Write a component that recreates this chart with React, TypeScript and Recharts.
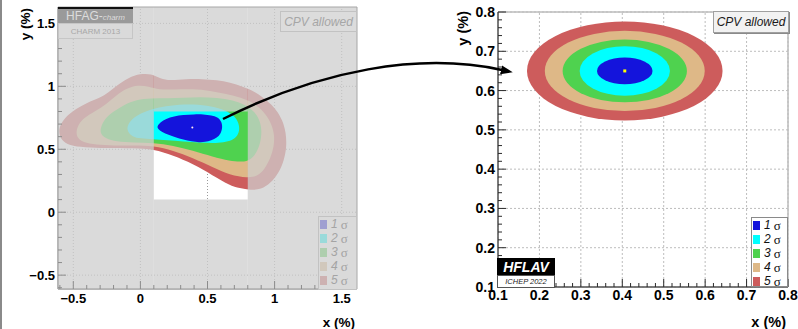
import React from 'react';
import { ScatterChart, Scatter, XAxis, YAxis, ReferenceArea, ReferenceLine, Label } from 'recharts';

const FONT = '"Liberation Sans", Arial, Helvetica, sans-serif';
const SERIF = '"Liberation Serif", "DejaVu Serif", serif';

const SIGMA_LEVELS = ['1', '2', '3', '4', '5'];
const SIGMA_COLORS = ['#1414dc', '#00ffff', '#4fd24f', '#deb887', '#cd5c5c'];

// right panel: HFLAV ICHEP 2022 fit, one ellipse per sigma level
const FIT_CENTER = { x: 0.406, y: 0.65 };
const ELLIPSE_HALF_X = [0.067, 0.109, 0.15, 0.193, 0.236];
const ELLIPSE_HALF_Y = [0.034, 0.063, 0.08, 0.102, 0.126];

// left panel: old CHARM 2013 contours (outer boundary of each level)
const OLD_BEST_FIT = { x: 0.387, y: 0.672 };
const CONTOUR_1S = [
  [0.124, 0.683], [0.15, 0.715], [0.19, 0.742], [0.25, 0.762], [0.32, 0.772], [0.4, 0.778],
  [0.47, 0.778], [0.53, 0.77], [0.575, 0.755], [0.605, 0.72], [0.612, 0.675], [0.6, 0.625],
  [0.57, 0.59], [0.53, 0.57], [0.48, 0.557], [0.44, 0.555], [0.38, 0.562], [0.32, 0.577],
  [0.26, 0.595], [0.21, 0.615], [0.16, 0.638], [0.13, 0.66],
];
const CONTOUR_2S = [
  [-0.1, 0.68], [-0.07, 0.735], [0.0, 0.785], [0.1, 0.825], [0.22, 0.848], [0.36, 0.858],
  [0.5, 0.848], [0.61, 0.82], [0.69, 0.775], [0.73, 0.72], [0.74, 0.66], [0.725, 0.605],
  [0.685, 0.57], [0.62, 0.553], [0.54, 0.548], [0.44, 0.553], [0.32, 0.562], [0.2, 0.572],
  [0.09, 0.58], [0.0, 0.585], [-0.06, 0.6], [-0.095, 0.64],
];
const CONTOUR_3S = [
  [-0.3, 0.66], [-0.27, 0.74], [-0.2, 0.8], [-0.12, 0.855], [-0.03, 0.895], [0.08, 0.905],
  [0.2, 0.905], [0.32, 0.91], [0.44, 0.915], [0.57, 0.91], [0.69, 0.89], [0.78, 0.855],
  [0.85, 0.8], [0.89, 0.73], [0.905, 0.65], [0.895, 0.55], [0.865, 0.47], [0.82, 0.415],
  [0.76, 0.398], [0.665, 0.407], [0.54, 0.44], [0.39, 0.49], [0.243, 0.528], [0.1, 0.55],
  [-0.05, 0.553], [-0.18, 0.56], [-0.26, 0.585], [-0.295, 0.62],
];
const CONTOUR_4S = [
  [-0.48, 0.64], [-0.46, 0.7], [-0.42, 0.75], [-0.34, 0.8], [-0.25, 0.86], [-0.18, 0.93],
  [-0.1, 0.985], [-0.02, 1.01], [0.06, 1.0], [0.14, 0.972], [0.25, 0.975], [0.39, 0.98],
  [0.52, 0.965], [0.64, 0.94], [0.75, 0.91], [0.84, 0.87], [0.92, 0.8], [0.97, 0.72],
  [1.0, 0.62], [0.995, 0.52], [0.97, 0.43], [0.925, 0.34], [0.87, 0.285], [0.8, 0.272],
  [0.665, 0.294], [0.54, 0.358], [0.39, 0.432], [0.243, 0.49], [0.1, 0.528], [-0.05, 0.53],
  [-0.2, 0.53], [-0.33, 0.535], [-0.43, 0.555], [-0.47, 0.59],
];
const CONTOUR_5S = [
  [-0.61, 0.64], [-0.595, 0.7], [-0.55, 0.765], [-0.48, 0.82], [-0.4, 0.87], [-0.3, 0.91],
  [-0.24, 0.95], [-0.17, 1.01], [-0.09, 1.07], [0.0, 1.1], [0.08, 1.1], [0.15, 1.06],
  [0.22, 1.045], [0.34, 1.058], [0.46, 1.058], [0.57, 1.05], [0.67, 1.03], [0.76, 1.0],
  [0.86, 0.955], [0.94, 0.89], [1.01, 0.82], [1.06, 0.73], [1.085, 0.63], [1.09, 0.52],
  [1.07, 0.41], [1.03, 0.31], [0.97, 0.23], [0.9, 0.18], [0.82, 0.175], [0.74, 0.19],
  [0.665, 0.214], [0.54, 0.292], [0.39, 0.385], [0.243, 0.45], [0.1, 0.5], [-0.05, 0.51],
  [-0.25, 0.51], [-0.42, 0.515], [-0.53, 0.53], [-0.59, 0.57],
];
const OLD_CONTOURS = [CONTOUR_1S, CONTOUR_2S, CONTOUR_3S, CONTOUR_4S, CONTOUR_5S];

// region of the old plot that the new plot zooms into
const ZOOM_WINDOW = { x1: 0.1, x2: 0.8, y1: 0.1, y2: 0.8 };

const LEFT_X_DOMAIN = [-0.614, 1.614];
const LEFT_Y_DOMAIN = [-0.61, 1.63];
const LEFT_MAJOR = [-0.5, 0, 0.5, 1, 1.5];
const LEFT_MINOR = [-0.6, -0.4, -0.3, -0.2, -0.1, 0.1, 0.2, 0.3, 0.4, 0.6, 0.7, 0.8, 0.9, 1.1, 1.2, 1.3, 1.4, 1.6];

const RIGHT_DOMAIN = [0.1, 0.8];
const RIGHT_MAJOR = [0.1, 0.2, 0.3, 0.4, 0.5, 0.6, 0.7, 0.8];
const RIGHT_MINOR = [
  0.12, 0.14, 0.16, 0.18, 0.22, 0.24, 0.26, 0.28, 0.32, 0.34, 0.36, 0.38, 0.42, 0.44,
  0.46, 0.48, 0.52, 0.54, 0.56, 0.58, 0.62, 0.64, 0.66, 0.68, 0.72, 0.74, 0.76, 0.78,
];

const FADE_GRAY = 205;
const FADE_ALPHA = 0.75;
const fade = (hex: string) => {
  const n = parseInt(hex.slice(1), 16);
  const ch = [(n >> 16) & 255, (n >> 8) & 255, n & 255].map((c) =>
    Math.round(FADE_ALPHA * FADE_GRAY + (1 - FADE_ALPHA) * c)
  );
  return `rgb(${ch.join(',')})`;
};

const near = (list: number[], v: number) => list.some((m) => Math.abs(m - v) < 1e-6);
const fmtLeft = (v: number) => (v < 0 ? `\u2212${Math.abs(v)}` : `${v}`);
const fmtRight = (v: number) => v.toFixed(1);

const XTick = (props: any) => {
  const { x, y, payload, majors, fmt, color, fontSize, gap } = props;
  const major = near(majors, payload.value);
  return (
    <g>
      <line x1={x} x2={x} y1={y} y2={y - (major ? 8 : 4)} stroke={color} />
      {major && (
        <text x={x} y={y + gap} textAnchor="middle" fontSize={fontSize} fontWeight="bold" fontFamily={FONT} fill="#000">
          {fmt(payload.value)}
        </text>
      )}
    </g>
  );
};

const YTick = (props: any) => {
  const { x, y, payload, majors, fmt, color, fontSize } = props;
  const major = near(majors, payload.value);
  return (
    <g>
      <line x1={x} x2={x + (major ? 8 : 4)} y1={y} y2={y} stroke={color} />
      {major && (
        <text x={x - 3} y={y} dy="0.36em" textAnchor="end" fontSize={fontSize} fontWeight="bold" fontFamily={FONT} fill="#000">
          {fmt(payload.value)}
        </text>
      )}
    </g>
  );
};

const xTitle = (size: number, dy: number) => (p: any) => (
  <text x={p.viewBox.x + p.viewBox.width - 2} y={p.viewBox.y + dy} textAnchor="end" fontSize={size} fontWeight="bold" fontFamily={FONT} fill="#000">
    x (%)
  </text>
);

const yTitle = (size: number, dx: number, dy: number) => (p: any) => (
  <text transform={`translate(${p.viewBox.x + dx},${p.viewBox.y + dy}) rotate(-90)`} textAnchor="end" fontSize={size} fontWeight="bold" fontFamily={FONT} fill="#000">
    y (%)
  </text>
);

const ellipseShape = (color: string) => (p: any) => (
  <ellipse cx={p.x + p.width / 2} cy={p.y + p.height / 2} rx={Math.abs(p.width) / 2} ry={Math.abs(p.height) / 2} fill={color} />
);

const box = (extra: React.CSSProperties): React.CSSProperties => ({
  position: 'absolute',
  boxSizing: 'border-box',
  display: 'flex',
  alignItems: 'center',
  justifyContent: 'center',
  fontFamily: FONT,
  whiteSpace: 'nowrap',
  ...extra,
});

const SigmaLegend = ({ left, top, width, height, colors, textColor, border, bg }: any) => (
  <div style={{ position: 'absolute', left, top, width, height, background: bg, border: `1px solid ${border}`, boxSizing: 'border-box' }}>
    {SIGMA_LEVELS.map((s, i) => (
      <div key={s} style={{ position: 'absolute', left: 1, top: 2.5 + i * 14.2, height: 9, display: 'flex', alignItems: 'center' }}>
        <span style={{ width: 7, height: 9, background: colors[i], display: 'inline-block' }} />
        <span style={{ marginLeft: 4, fontFamily: FONT, fontStyle: 'italic', fontSize: 12, color: textColor, lineHeight: '9px' }}>{s}</span>
        <span style={{ marginLeft: 3, fontFamily: SERIF, fontSize: 13, color: textColor, lineHeight: '9px' }}>σ</span>
      </div>
    ))}
  </div>
);

const LEFT_AXIS = '#8c8c8c';
const RIGHT_AXIS = '#2a2a2a';

const App = () => {
  const leftTicks = [...LEFT_MAJOR, ...LEFT_MINOR];
  const rightTicks = [...RIGHT_MAJOR, ...RIGHT_MINOR];
  const fadedColors = SIGMA_COLORS.map(fade);

  return (
    <div style={{ position: 'absolute', left: 0, top: 0, width: 798, height: 329, background: '#fff', overflow: 'hidden' }}>
      {/* old result, faded outside the zoom window */}
      <div style={{ position: 'absolute', left: 0, top: 0 }}>
        <ScatterChart width={370} height={329} margin={{ top: 7, right: 13, bottom: 0, left: 0 }}>
          <XAxis
            type="number" dataKey="x" domain={LEFT_X_DOMAIN} ticks={leftTicks} interval={0} allowDataOverflow
            height={40} tickSize={0} tickMargin={0} tickLine={false} axisLine={{ stroke: LEFT_AXIS }}
            tick={(p: any) => <XTick {...p} majors={LEFT_MAJOR} fmt={fmtLeft} color={LEFT_AXIS} fontSize={13} gap={13.5} />}
          >
            <Label content={xTitle(13.5, 37.5)} />
          </XAxis>
          <YAxis
            type="number" dataKey="y" domain={LEFT_Y_DOMAIN} ticks={leftTicks} interval={0} allowDataOverflow
            width={58} tickSize={0} tickMargin={0} tickLine={false} axisLine={{ stroke: LEFT_AXIS }}
            tick={(p: any) => <YTick {...p} majors={LEFT_MAJOR} fmt={fmtLeft} color={LEFT_AXIS} fontSize={13} />}
          >
            <Label content={yTitle(13.5, 30, 1)} />
          </YAxis>
          {LEFT_MAJOR.map((v) => (
            <ReferenceLine key={`gx${v}`} x={v} stroke="#9a9a9a" strokeDasharray="1 2" zIndex={50} />
          ))}
          {LEFT_MAJOR.map((v) => (
            <ReferenceLine key={`gy${v}`} y={v} stroke="#9a9a9a" strokeDasharray="1 2" zIndex={50} />
          ))}
          {[4, 3, 2, 1, 0].map((i) => (
            <Scatter
              key={`c${i}`}
              name={`${SIGMA_LEVELS[i]} σ`}
              data={OLD_CONTOURS[i].map(([x, y]) => ({ x, y }))}
              line={{ fill: SIGMA_COLORS[i], stroke: 'none' }}
              lineJointType="basisClosed"
              shape={() => <g />}
              legendType="none"
              isAnimationActive={false}
              zIndex={600}
            />
          ))}
          <Scatter
            data={[OLD_BEST_FIT]}
            shape={(p: any) => <circle cx={p.cx} cy={p.cy} r={1} fill="#ffe8f0" />}
            isAnimationActive={false}
            zIndex={610}
          />
          <ReferenceArea x1={LEFT_X_DOMAIN[0]} x2={ZOOM_WINDOW.x1} y1={LEFT_Y_DOMAIN[0]} y2={LEFT_Y_DOMAIN[1]} fill={`rgb(${FADE_GRAY},${FADE_GRAY},${FADE_GRAY})`} fillOpacity={FADE_ALPHA} stroke="none" zIndex={650} />
          <ReferenceArea x1={ZOOM_WINDOW.x2} x2={LEFT_X_DOMAIN[1]} y1={LEFT_Y_DOMAIN[0]} y2={LEFT_Y_DOMAIN[1]} fill={`rgb(${FADE_GRAY},${FADE_GRAY},${FADE_GRAY})`} fillOpacity={FADE_ALPHA} stroke="none" zIndex={650} />
          <ReferenceArea x1={ZOOM_WINDOW.x1} x2={ZOOM_WINDOW.x2} y1={ZOOM_WINDOW.y2} y2={LEFT_Y_DOMAIN[1]} fill={`rgb(${FADE_GRAY},${FADE_GRAY},${FADE_GRAY})`} fillOpacity={FADE_ALPHA} stroke="none" zIndex={650} />
          <ReferenceArea x1={ZOOM_WINDOW.x1} x2={ZOOM_WINDOW.x2} y1={LEFT_Y_DOMAIN[0]} y2={ZOOM_WINDOW.y1} fill={`rgb(${FADE_GRAY},${FADE_GRAY},${FADE_GRAY})`} fillOpacity={FADE_ALPHA} stroke="none" zIndex={650} />
          <ReferenceArea x1={LEFT_X_DOMAIN[0]} x2={LEFT_X_DOMAIN[1]} y1={LEFT_Y_DOMAIN[0]} y2={LEFT_Y_DOMAIN[1]} fill="none" stroke="#a6a6a6" zIndex={660} />
        </ScatterChart>
      </div>

      {/* new result */}
      <div style={{ position: 'absolute', left: 430, top: 0 }}>
        <ScatterChart width={368} height={329} margin={{ top: 12, right: 10, bottom: 0, left: 0 }}>
          <XAxis
            type="number" dataKey="x" domain={RIGHT_DOMAIN} ticks={rightTicks} interval={0} allowDataOverflow
            height={42} tickSize={0} tickMargin={0} tickLine={false} axisLine={{ stroke: RIGHT_AXIS }}
            tick={(p: any) => <XTick {...p} majors={RIGHT_MAJOR} fmt={fmtRight} color={RIGHT_AXIS} fontSize={14} gap={13} />}
          >
            <Label content={xTitle(14.5, 40)} />
          </XAxis>
          <YAxis
            type="number" dataKey="y" domain={RIGHT_DOMAIN} ticks={rightTicks} interval={0} allowDataOverflow
            width={68} tickSize={0} tickMargin={0} tickLine={false} axisLine={{ stroke: RIGHT_AXIS }}
            tick={(p: any) => <YTick {...p} majors={RIGHT_MAJOR} fmt={fmtRight} color={RIGHT_AXIS} fontSize={14} />}
          >
            <Label content={yTitle(14.5, 38, -1)} />
          </YAxis>
          <ReferenceArea x1={RIGHT_DOMAIN[0]} x2={RIGHT_DOMAIN[1]} y1={RIGHT_DOMAIN[0]} y2={RIGHT_DOMAIN[1]} fill="none" stroke="#9a9a9a" zIndex={40} />
          {RIGHT_MAJOR.map((v) => (
            <ReferenceLine key={`gx${v}`} x={v} stroke="#bdbdbd" strokeDasharray="2 2" zIndex={50} />
          ))}
          {RIGHT_MAJOR.map((v) => (
            <ReferenceLine key={`gy${v}`} y={v} stroke="#bdbdbd" strokeDasharray="2 2" zIndex={50} />
          ))}
          {[4, 3, 2, 1, 0].map((i) => (
            <ReferenceArea
              key={`e${i}`}
              x1={FIT_CENTER.x - ELLIPSE_HALF_X[i]}
              x2={FIT_CENTER.x + ELLIPSE_HALF_X[i]}
              y1={FIT_CENTER.y - ELLIPSE_HALF_Y[i]}
              y2={FIT_CENTER.y + ELLIPSE_HALF_Y[i]}
              shape={ellipseShape(SIGMA_COLORS[i])}
              zIndex={100}
            />
          ))}
          <Scatter
            data={[FIT_CENTER]}
            shape={(p: any) => <rect x={p.cx - 1.5} y={p.cy - 1.5} width={3} height={3} fill="#ffff00" />}
            isAnimationActive={false}
            zIndex={610}
          />
        </ScatterChart>
      </div>

      {/* old plot decorations (faded) */}
      <div style={{ position: 'absolute', left: 0, top: 0, width: 2, height: 329, background: '#8a8a8a' }} />
      <div style={box({ left: 58, top: 7, width: 75, height: 16, background: '#9a9a9a', borderTop: '2px solid #111', color: '#dcdcdc' })}>
        <span style={{ fontSize: 12 }}>HFAG-</span>
        <span style={{ fontSize: 8, fontStyle: 'italic', marginTop: 2 }}>charm</span>
      </div>
      <div style={box({ left: 58, top: 23, width: 75, height: 16, background: '#dadada', border: '1px solid #c6c6c6', color: '#a8a8a8', fontSize: 8 })}>
        CHARM 2013
      </div>
      <div style={box({ left: 280, top: 11, width: 77, height: 21, background: '#dcdcdc', border: '1px solid #c2c2c2', color: '#a6a6a6', fontSize: 12, fontStyle: 'italic' })}>
        CPV allowed
      </div>
      <SigmaLegend left={318} top={216} width={39} height={74} colors={fadedColors} textColor="#a4a4a4" border="#c2c2c2" bg="#dadada" />

      {/* new plot decorations */}
      <div style={box({ left: 713, top: 11, width: 76, height: 22, background: '#f2f2f2', border: '1px solid #a0a0a0', boxShadow: '1px 1px 0 #8a8a8a', color: '#1a1a1a', fontSize: 12, fontStyle: 'italic' })}>
        CPV allowed
      </div>
      <div style={box({ left: 497, top: 258, width: 58, height: 17, background: '#000', color: '#fff', fontSize: 14, fontWeight: 'bold', fontStyle: 'italic' })}>
        HFLAV
      </div>
      <div style={box({ left: 497, top: 275, width: 58, height: 13, background: '#fff', border: '1px solid #555', color: '#222', fontSize: 7.5, fontStyle: 'italic' })}>
        ICHEP 2022
      </div>
      <SigmaLegend left={751} top={217} width={37} height={70} colors={SIGMA_COLORS} textColor="#111" border="#8a8a8a" bg="#fff" />

      {/* arrow from the old contour to the new one */}
      <svg width={798} height={329} style={{ position: 'absolute', left: 0, top: 0, pointerEvents: 'none' }}>
        <defs>
          <marker id="arrowHead" markerWidth="12" markerHeight="9" refX="1" refY="4.5" orient="auto" markerUnits="userSpaceOnUse">
            <path d="M0,0 L12,4.5 L0,9 z" fill="#000" />
          </marker>
        </defs>
        <path d="M223,119 C320,70 420,52 502,70" stroke="#000" strokeWidth={2.5} fill="none" markerEnd="url(#arrowHead)" />
      </svg>
    </div>
  );
};

export default App;
